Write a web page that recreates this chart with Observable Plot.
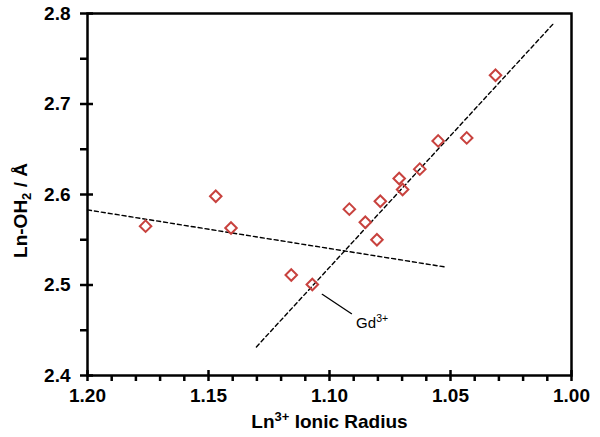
<!DOCTYPE html>
<html><head><meta charset="utf-8">
<script src="https://cdn.jsdelivr.net/npm/d3@7"></script>
<script src="https://cdn.jsdelivr.net/npm/@observablehq/plot@0.6"></script>
<style>body{margin:0;background:#fff}</style>
</head><body><div id="chart"></div>
<script>
// Data points: Ln3+ ionic radius vs Ln-OH2 distance
const radius   = [1.176, 1.147, 1.1407, 1.1158, 1.1071, 1.0918, 1.0852, 1.0804, 1.079, 1.0712, 1.0698, 1.0627, 1.0551, 1.0433, 1.0314];
const distance = [2.565, 2.598, 2.563, 2.511, 2.5005, 2.5838, 2.5694, 2.550, 2.5926, 2.6177, 2.6055, 2.628, 2.6592, 2.6625, 2.7318];

// Dashed fit lines
const fitLowX  = [1.200, 1.0524];
const fitLowY  = [2.583, 2.520];
const fitHighX = [1.1302, 1.0074];
const fitHighY = [2.4316, 2.789];

// Gd annotation
const gdLeaderX = [1.103, 1.0909];
const gdLeaderY = [2.4897, 2.4683];
const gdLabelX = [1.089];
const gdLabelY = [2.4523];
const gdLabelText = ["Gd3+"];

// Ticks
const xMajorTicks = [1.20, 1.15, 1.10, 1.05, 1.00];
const xMinorTicks = [1.19, 1.18, 1.17, 1.16, 1.14, 1.13, 1.12, 1.11, 1.09, 1.08, 1.07, 1.06, 1.04, 1.03, 1.02, 1.01];
const yMajorTicks = [2.4, 2.5, 2.6, 2.7, 2.8];
const yMinorTicks = [2.45, 2.55, 2.65, 2.75];

const xLabel = "Ln3+ Ionic Radius";
const yLabel = "Ln-OH2 / Å";

const points = radius.map((r, i) => ({x: r, y: distance[i]}));
const toLine = (xs, ys) => xs.map((x, i) => ({x, y: ys[i]}));

const W = 600, H = 437;
const mL = 87, mR = 29, mT = 13, mB = 62;
const frameW = W - mL - mR, frameH = H - mT - mB;
const red = "#c8423e";
const axisW = 2.5;

const chart = Plot.plot({
  width: W, height: H,
  marginLeft: mL, marginRight: mR, marginTop: mT, marginBottom: mB,
  style: {fontFamily: "'Liberation Sans', Arial, sans-serif", background: "white", color: "black"},
  x: {domain: [1.20, 1.00]},
  y: {domain: [2.4, 2.8]},
  marks: [
    // tick marks (minor outside, major crossing the axis)
    Plot.tickX(xMinorTicks, {x: d => d, insetTop: frameH, insetBottom: -6, strokeWidth: axisW}),
    Plot.tickX(xMajorTicks, {x: d => d, insetTop: frameH - 5, insetBottom: -6, strokeWidth: axisW}),
    Plot.tickY(yMinorTicks, {y: d => d, insetRight: frameW, insetLeft: -7, strokeWidth: axisW}),
    Plot.tickY(yMajorTicks, {y: d => d, insetRight: frameW - 6, insetLeft: -7, strokeWidth: axisW}),
    // tick labels
    Plot.axisX(xMajorTicks, {tickSize: 0, tickPadding: 13, tickFormat: d3.format(".2f"), fontSize: 19, fontWeight: "bold", label: null}),
    Plot.axisY(yMajorTicks, {tickSize: 0, tickPadding: 17, tickFormat: d3.format(".1f"), fontSize: 19, fontWeight: "bold", label: null}),
    Plot.frame({stroke: "black", strokeWidth: axisW}),
    // fit lines
    Plot.line(toLine(fitLowX, fitLowY), {x: "x", y: "y", stroke: "black", strokeWidth: 1.4, strokeDasharray: "4,3"}),
    Plot.line(toLine(fitHighX, fitHighY), {x: "x", y: "y", stroke: "black", strokeWidth: 1.4, strokeDasharray: "4,3"}),
    // Gd annotation
    Plot.line(toLine(gdLeaderX, gdLeaderY), {x: "x", y: "y", stroke: "black", strokeWidth: 1.3}),
    Plot.text(gdLabelText, {x: (d, i) => gdLabelX[i], y: (d, i) => gdLabelY[i], text: d => d, textAnchor: "start", lineAnchor: "bottom", fontSize: 15}),
    // data
    Plot.dot(points, {x: "x", y: "y", symbol: "diamond2", r: 5.2, stroke: red, strokeWidth: 2, fill: "none"}),
    // axis titles
    Plot.text([xLabel], {frameAnchor: "bottom", dy: 52.5, textAnchor: "middle", lineAnchor: "bottom", text: d => d, fontSize: 19, fontWeight: "bold"}),
    Plot.text([yLabel], {frameAnchor: "left", dx: -66.5, dy: 16, rotate: -90, textAnchor: "middle", lineAnchor: "middle", text: d => d, fontSize: 19, fontWeight: "bold"})
  ]
});

// Rich text: superscripts / subscripts as tspans
function rich(textEl, parts) {
  while (textEl.firstChild) textEl.removeChild(textEl.firstChild);
  for (const p of parts) {
    const t = document.createElementNS("http://www.w3.org/2000/svg", "tspan");
    t.textContent = p.s;
    if (p.size) t.setAttribute("font-size", p.size);
    if (p.dy) t.setAttribute("dy", p.dy);
    textEl.appendChild(t);
  }
}
d3.select(chart).selectAll("text").each(function() {
  const s = this.textContent;
  if (s === "Gd3+") {
    rich(this, [{s: "Gd"}, {s: "3+", size: "10.5px", dy: "-6px"}]);
  } else if (s === xLabel) {
    rich(this, [{s: "Ln"}, {s: "3+", size: "13px", dy: "-7px"}, {s: " Ionic Radius", dy: "7px"}]);
  } else if (s === yLabel) {
    rich(this, [{s: "Ln-OH"}, {s: "2", size: "13px", dy: "4px"}, {s: " / Å", dy: "-4px"}]);
  }
});

document.getElementById("chart").appendChild(chart);
</script>
</body></html>
